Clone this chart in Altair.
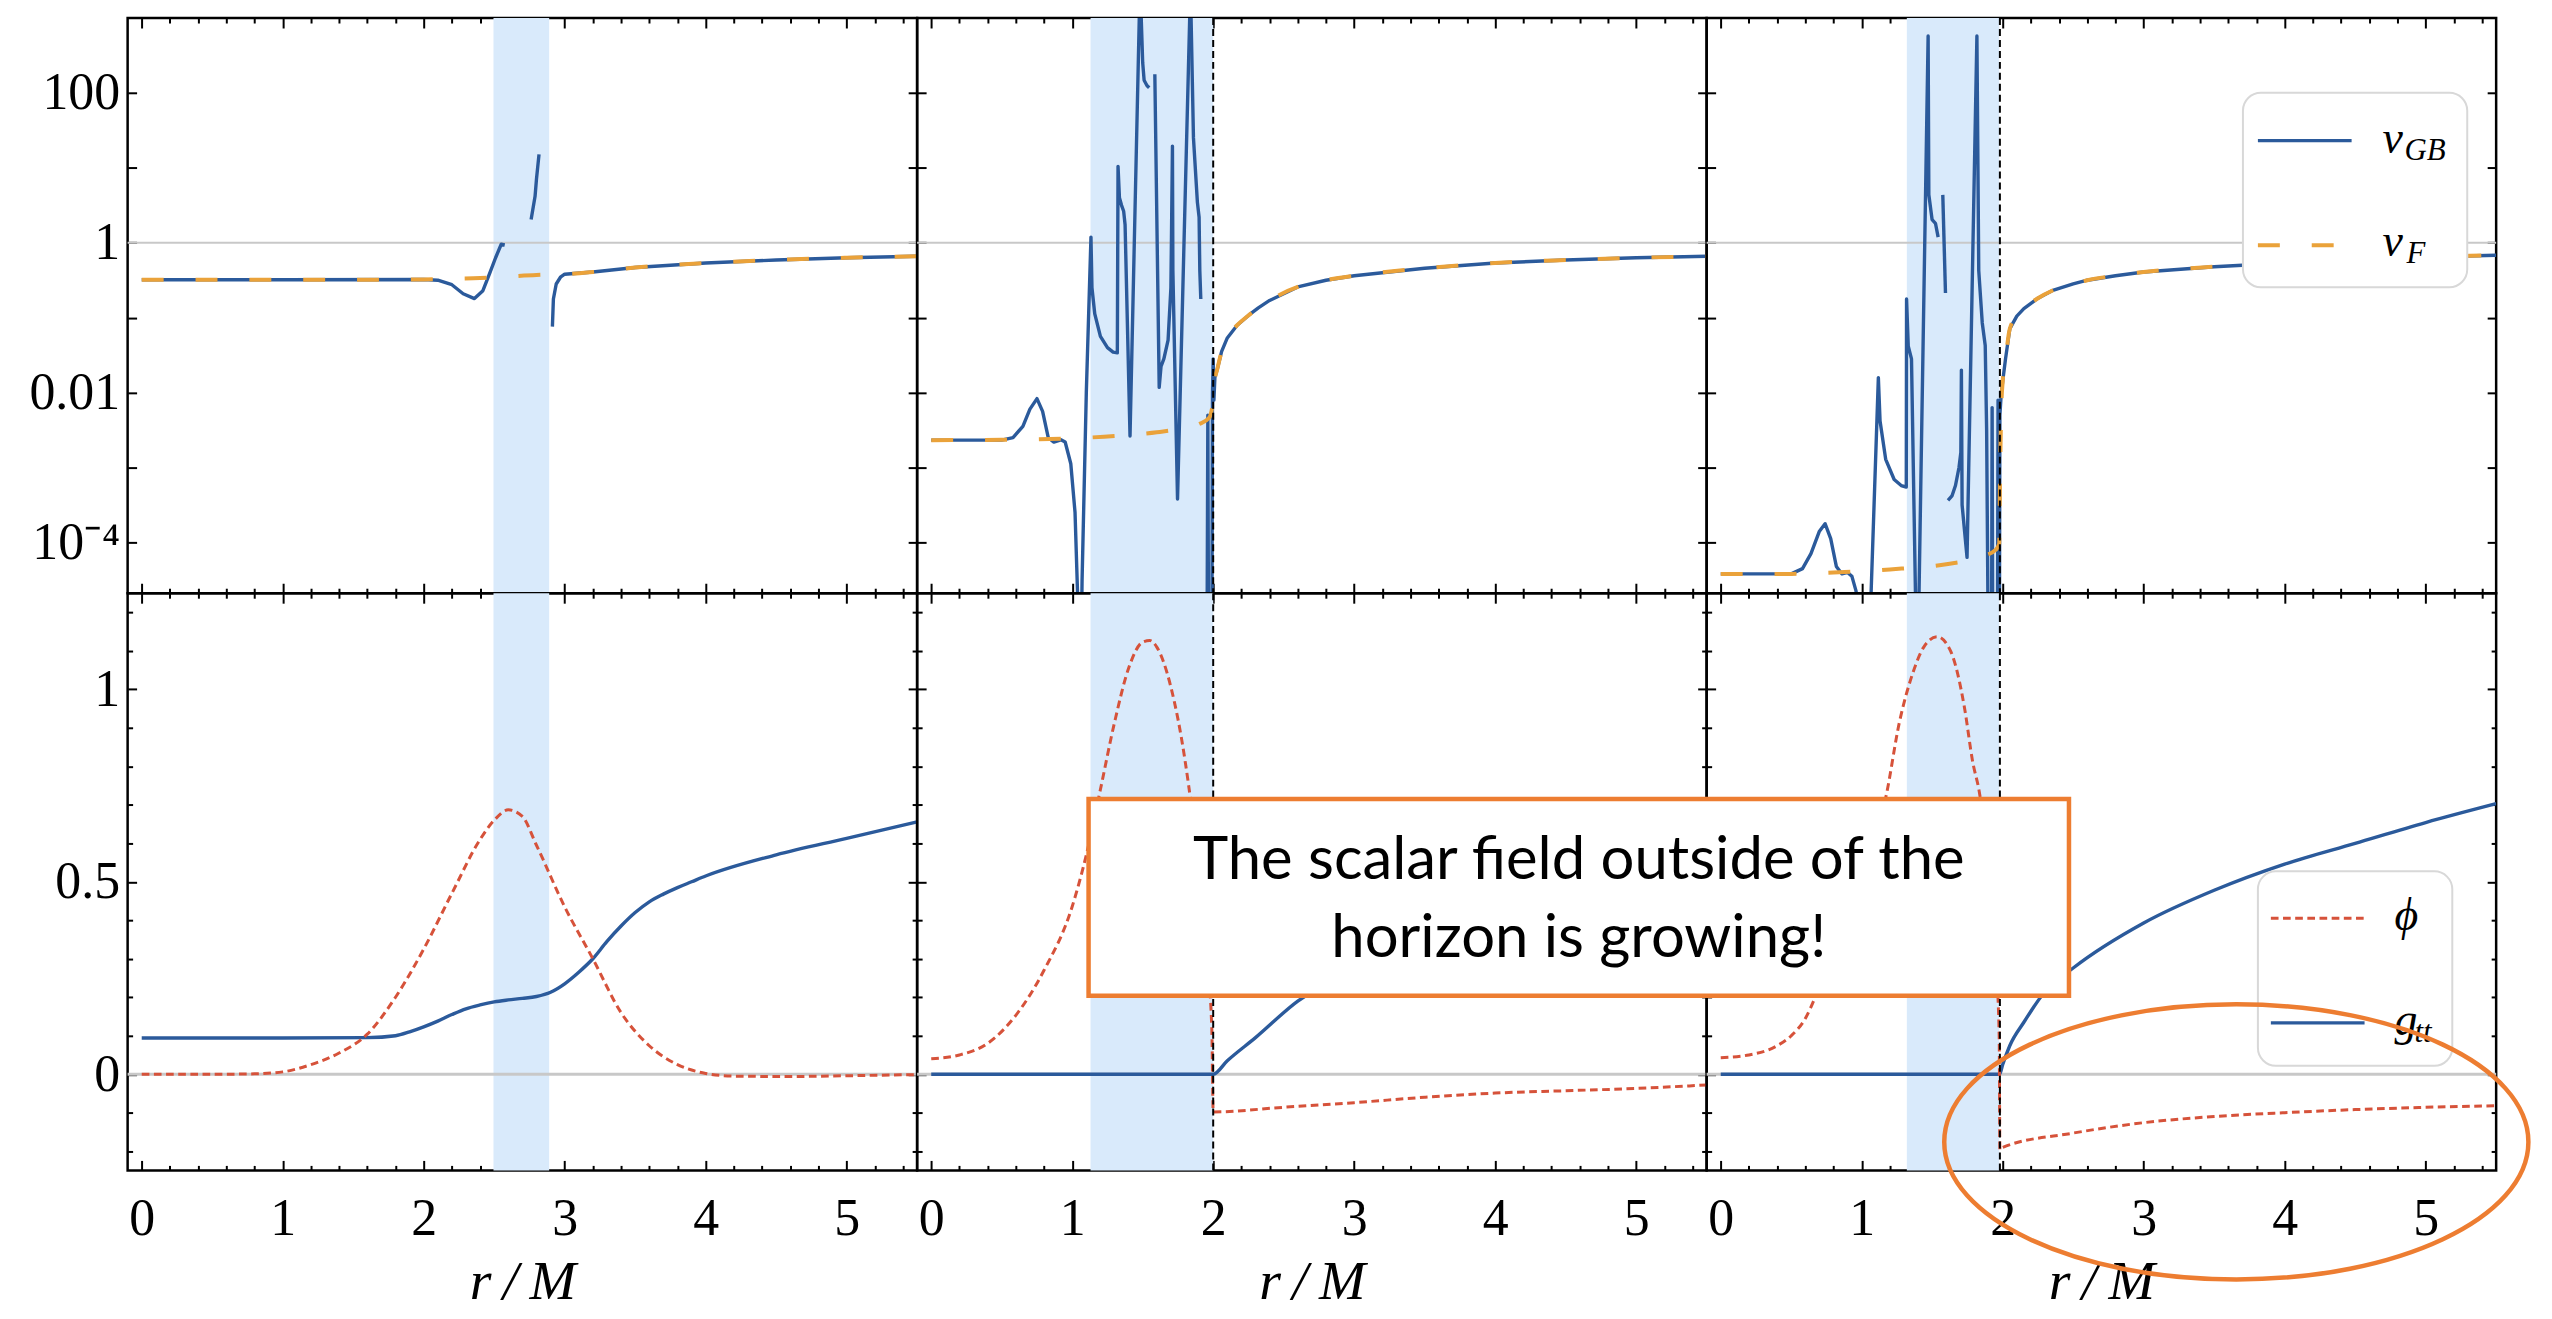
import altair as alt
import pandas as pd

# ---------------------------------------------------------------- style
SERIF = "Liberation Serif"
SANS = "Lato"
BLUE = "#2B5A9B"
ORANGE = "#EAA23A"
RED = "#D6523A"
BAND_COLOR = "#D9EAFB"
REF_COLOR = "#C8C8C8"
ANN_COLOR = "#ED7D31"

W = 792
H_TOP = 577
H_BOT = 579

# ---------------------------------------------------------------- axes
X_DOMAIN = [-0.1, 5.5]
YT_DOMAIN = [2.1e-5, 1000]
YB_DOMAIN = [-0.25, 1.25]
X_MAJOR = [0, 1, 2, 3, 4, 5]
X_MINOR = [0.2, 0.4, 0.6, 0.8, 1.2, 1.4, 1.6, 1.8, 2.2, 2.4, 2.6, 2.8,
           3.2, 3.4, 3.6, 3.8, 4.2, 4.4, 4.6, 4.8, 5.2, 5.4]
YT_TICKS = [1e-4, 1e-3, 1e-2, 1e-1, 1, 10, 100]
YB_MAJOR = [0, 0.5, 1]
YB_MINOR = [-0.2, -0.1, 0.1, 0.2, 0.3, 0.4, 0.6, 0.7, 0.8, 0.9, 1.1, 1.2]
YT_EXPR = ("datum.value < 2e-4 ? '10⁻⁴' : abs(datum.value - 0.01) < 1e-9 ? '0.01' : "
           "datum.value == 1 ? '1' : datum.value == 100 ? '100' : ''")
X_TITLE = "r\u2009/\u2009M"

# shaded regions and horizon position per column
BANDS = [(2.495, 2.89), (1.13, 2.0), (1.32, 1.975)]
HORIZON = [None, 2.0, 1.98]

# ---------------------------------------------------------------- top row data (log10 of v)
VF1_X = [0, 0.5, 1.0, 1.5, 2.0, 2.2, 2.4, 2.6, 2.8, 3.0, 3.2, 3.5, 4.0, 4.5, 5.0, 5.5]
VF1_LOG = [-0.494, -0.494, -0.494, -0.493, -0.49, -0.48, -0.47, -0.45, -0.43, -0.42,
           -0.39, -0.33, -0.27, -0.23, -0.20, -0.18]
VGB1_SEGS = [
    ([0, 1.0, 2.0, 2.1, 2.2, 2.28, 2.36, 2.42, 2.47, 2.51, 2.55, 2.575],
     [-0.494, -0.494, -0.49, -0.50, -0.56, -0.68, -0.745, -0.64, -0.40, -0.20, -0.02, -0.03]),
    ([2.762, 2.79, 2.80, 2.818], [0.31, 0.62, 0.85, 1.18]),
    ([2.913, 2.92, 2.94, 2.97, 3.0, 3.2, 3.5, 4.0, 4.5, 5.0, 5.5],
     [-1.12, -0.75, -0.55, -0.46, -0.42, -0.39, -0.33, -0.27, -0.23, -0.20, -0.18]),
]

VF2_X = [0, 0.5, 1.0, 1.3, 1.6, 1.8, 1.9, 1.97, 2.0, 2.01, 2.03, 2.06, 2.1, 2.17, 2.25,
         2.32, 2.4, 2.6, 2.8, 3.0, 3.5, 4.0, 4.5, 5.0, 5.5]
VF2_LOG = [-2.635, -2.63, -2.61, -2.58, -2.53, -2.47, -2.42, -2.34, -2.1, -1.85, -1.68,
           -1.45, -1.27, -1.10, -0.97, -0.87, -0.77, -0.59, -0.5, -0.44, -0.34, -0.27,
           -0.23, -0.20, -0.18]
VGB2_SEGS = [
    ([0, 0.5, 0.58, 0.65, 0.70, 0.75, 0.79, 0.83, 0.87, 0.92, 0.95, 0.99, 1.02, 1.04, 1.045,
      1.06, 1.07, 1.10, 1.133, 1.14, 1.16, 1.20, 1.25, 1.29, 1.32, 1.325, 1.335, 1.35, 1.365,
      1.375, 1.41, 1.478, 1.486, 1.50, 1.51, 1.53, 1.546],
     [-2.635, -2.635, -2.60, -2.45, -2.22, -2.08, -2.25, -2.60, -2.66, -2.63, -2.66, -2.95,
      -3.6, -4.8, -6, -6, -4.5, -2.0, 0.076, -0.6, -0.95, -1.25, -1.40, -1.46, -1.47, 1.02,
      0.6, 0.5, 0.42, 0.24, -2.58, 3.2, 3.2, 2.4, 2.17, 2.1, 2.07]),
    ([1.586, 1.617, 1.63, 1.65, 1.68, 1.70, 1.711, 1.714, 1.747, 1.836],
     [2.25, -1.93, -1.65, -1.55, -1.3, -0.6, 1.29, -0.37, -3.42, 3.2]),
    ([1.841, 1.86, 1.888, 1.90, 1.905, 1.912], [3.2, 1.4, 0.54, 0.34, -0.37, -0.75]),
    ([1.955, 1.962, 1.968], [-6, -2.3, -6]),
    ([1.99, 1.995, 2.0, 2.005, 2.012, 2.03, 2.06, 2.1, 2.17, 2.25, 2.32, 2.4, 2.6, 2.8, 3.0,
      3.5, 4.0, 4.5, 5.0, 5.5],
     [-6, -2.0, -1.55, -2.1, -1.8, -1.68, -1.45, -1.27, -1.10, -0.97, -0.87, -0.77, -0.59,
      -0.5, -0.44, -0.34, -0.27, -0.23, -0.20, -0.18]),
]

VF3_X = [0, 0.5, 0.8, 1.2, 1.6, 1.85, 1.95, 1.975, 1.982, 1.99, 2.0, 2.02, 2.05, 2.1, 2.15,
         2.25, 2.35, 2.5, 2.6, 2.8, 3.0, 3.5, 4.0, 4.5, 5.0, 5.5]
VF3_LOG = [-4.42, -4.42, -4.40, -4.36, -4.29, -4.19, -4.10, -4.02, -3.0, -2.2, -1.85, -1.55,
           -1.15, -0.98, -0.88, -0.74, -0.64, -0.55, -0.50, -0.44, -0.39, -0.32, -0.27,
           -0.23, -0.19, -0.166]
VGB3_SEGS = [
    ([0, 0.5, 0.58, 0.64, 0.70, 0.74, 0.78, 0.82, 0.86, 0.90, 0.93, 0.96, 0.985,
      1.06, 1.066, 1.118, 1.13, 1.17, 1.23, 1.28, 1.316, 1.318, 1.33, 1.353, 1.393,
      1.395, 1.471, 1.476, 1.499, 1.523, 1.542],
     [-4.42, -4.42, -4.35, -4.15, -3.85, -3.75, -3.95, -4.32, -4.42, -4.40, -4.45, -4.65, -6,
      -6, -4.7, -1.80, -2.38, -2.89, -3.16, -3.24, -3.26, -0.75, -1.38, -1.55, -6,
      -6, 2.76, 0.64, 0.31, 0.26, 0.076]),
    ([1.575, 1.594], [0.64, -0.67]),
    ([1.612, 1.64, 1.665, 1.69, 1.703, 1.707, 1.712, 1.747, 1.817, 1.83, 1.855, 1.876, 1.886, 1.90],
     [-3.44, -3.38, -3.24, -3.0, -2.8, -1.70, -3.5, -4.2, 2.76, -0.37, -1.07, -1.37, -2.5, -6]),
    ([1.92, 1.925, 1.93], [-6, -2.2, -6]),
    ([1.962, 1.967, 1.972, 1.976, 1.98, 1.99, 2.0, 2.02, 2.05, 2.1, 2.15, 2.25, 2.35, 2.5, 2.6,
      2.8, 3.0, 3.5, 4.0, 4.5, 5.0, 5.5],
     [-6, -2.1, -6, -6, -2.3, -2.0, -1.85, -1.55, -1.15, -0.98, -0.88, -0.74, -0.64, -0.55,
      -0.50, -0.44, -0.39, -0.32, -0.27, -0.23, -0.19, -0.166]),
]

# ---------------------------------------------------------------- bottom row data
PHI1_X = [0, 0.6, 0.8, 1.0, 1.2, 1.4, 1.6, 1.8, 2.0, 2.2, 2.4, 2.5, 2.6, 2.7, 2.8, 3.0,
          3.2, 3.4, 3.6, 3.8, 4.0, 4.2, 4.6, 5.0, 5.5]
PHI1_Y = [0, 0, 0.001, 0.006, 0.025, 0.055, 0.104, 0.20, 0.325, 0.47, 0.61, 0.66, 0.687,
          0.67, 0.595, 0.435, 0.30, 0.16, 0.074, 0.025, 0.002, -0.005, -0.006, -0.004, -0.001]
G1_X = [0, 1.0, 1.6, 1.8, 1.9, 2.0, 2.1, 2.2, 2.3, 2.4, 2.5, 2.6, 2.7, 2.8, 2.9, 3.0, 3.1,
        3.2, 3.3, 3.4, 3.5, 3.6, 3.7, 3.8, 3.9, 4.0, 4.5, 5.0, 5.5]
G1_Y = [0.094, 0.094, 0.095, 0.10, 0.11, 0.123, 0.138, 0.155, 0.17, 0.180, 0.188, 0.193,
        0.197, 0.202, 0.213, 0.235, 0.265, 0.30, 0.345, 0.385, 0.42, 0.448, 0.468, 0.485,
        0.50, 0.515, 0.57, 0.613, 0.656]

PHI2_X = [0, 0.2, 0.4, 0.6, 0.8, 1.0, 1.1, 1.2, 1.3, 1.4, 1.5, 1.55, 1.6, 1.7, 1.8, 1.9,
          1.95, 1.99, 2.0, 2.5, 3.0, 3.5, 4.0, 4.5, 5.0, 5.5]
PHI2_Y = [0.04, 0.05, 0.08, 0.153, 0.27, 0.436, 0.57, 0.74, 0.914, 1.055, 1.123, 1.127,
          1.11, 1.006, 0.816, 0.52, 0.32, 0.12, -0.098, -0.086, -0.074, -0.06, -0.049,
          -0.043, -0.037, -0.028]
G2_X = [0, 2.0, 2.1, 2.3, 2.6, 3.0, 3.5, 4.0, 4.5, 5.0, 5.5]
G2_Y = [0, 0, 0.035, 0.095, 0.19, 0.27, 0.36, 0.43, 0.49, 0.545, 0.59]

PHI3_X = [0, 0.2, 0.4, 0.5, 0.6, 0.67, 0.8, 1.0, 1.1, 1.171, 1.267, 1.36, 1.44, 1.535,
          1.63, 1.73, 1.785, 1.84, 1.9, 1.95, 1.975, 1.98, 2.0, 2.5, 3.0, 3.5, 4.0, 4.5,
          5.0, 5.5]
PHI3_Y = [0.043, 0.05, 0.074, 0.10, 0.145, 0.20, 0.33, 0.50, 0.62, 0.72, 0.914, 1.04, 1.11,
          1.137, 1.10, 0.95, 0.816, 0.72, 0.52, 0.30, 0.10, -0.196, -0.19, -0.153, -0.126,
          -0.11, -0.10, -0.092, -0.086, -0.082]
G3_X = [0, 1.978, 2.0, 2.05, 2.15, 2.3, 2.5, 3.0, 3.5, 4.0, 4.5, 5.0, 5.5]
G3_Y = [0, 0, 0.025, 0.074, 0.135, 0.215, 0.276, 0.393, 0.478, 0.546, 0.60, 0.654, 0.703]

# ---------------------------------------------------------------- legends / annotation
LEG_TOP_LABELS = [("v", "GB"), ("v", "F")]
LEG_BOT_LABELS = [("ϕ", ""), ("g", "tt")]
ANN_LINES = ["The scalar field outside of the", "horizon is growing!"]
ANN_BOX_X = [-4.484, 2.470]
ANN_BOX_Y = [0.715, 0.204]
ANN_TEXT_X = -1.007
ANN_TEXT_Y = [0.5065, 0.3044]
ELL_CENTER = (3.657, -0.176)
ELL_W, ELL_H = 586, 276

ONE = pd.DataFrame({"k": [0]})
TICK_FONT_SIZE = 52


def xscale():
    return alt.Scale(domain=X_DOMAIN, nice=False, zero=False)


def yscale(row):
    if row == 0:
        return alt.Scale(type="log", domain=YT_DOMAIN, nice=False)
    return alt.Scale(domain=YB_DOMAIN, nice=False, zero=False)


def xy_df(x, y, log=False):
    return pd.DataFrame({"x": x, "y": [10 ** v for v in y] if log else y})


def seg_df(segments):
    rows = []
    for i, (xs, ls) in enumerate(segments):
        for x, l in zip(xs, ls):
            rows.append({"x": x, "y": 10 ** l, "seg": i})
    return pd.DataFrame(rows)


def band_layer(col):
    b0, b1 = BANDS[col]
    return alt.Chart(pd.DataFrame({"x1": [b0], "x2": [b1]})).mark_rect(
        color=BAND_COLOR).encode(x=alt.X("x1:Q", scale=xscale(), axis=None), x2="x2:Q")


def ref_layer(row):
    return alt.Chart(pd.DataFrame({"y": [1 if row == 0 else 0]})).mark_rule(
        color=REF_COLOR, strokeWidth=2 if row == 0 else 3).encode(
        y=alt.Y("y:Q", scale=yscale(row), axis=None))


def horizon_layer(col):
    return alt.Chart(pd.DataFrame({"x": [HORIZON[col]]})).mark_rule(
        color="black", strokeWidth=2, strokeDash=[7, 4]).encode(
        x=alt.X("x:Q", scale=xscale(), axis=None))


def line_layer(df, row, color, width, dash=None, detail=False, smooth=False):
    mk = dict(color=color, strokeWidth=width, clip=True, strokeJoin="round")
    if dash:
        mk["strokeDash"] = dash
    if smooth:
        mk["interpolate"] = "monotone"
    enc = dict(x=alt.X("x:Q", scale=xscale(), axis=None),
               y=alt.Y("y:Q", scale=yscale(row), axis=None))
    if detail:
        enc["detail"] = "seg:N"
    return alt.Chart(df).mark_line(**mk).encode(**enc)


def axis_layers(row, col):
    xlab = row == 1
    ylab = col == 0
    common = dict(domain=False, grid=False, tickColor="black", tickWidth=2,
                  labelFlush=False, labelOverlap=False, labelBound=False,
                  labelFont=SERIF, labelFontSize=TICK_FONT_SIZE, labelColor="black")
    dummy = pd.DataFrame({"x": [1.0], "y": [1.0 if row == 0 else 0.5]})
    base = alt.Chart(dummy).mark_point(opacity=0)
    if row == 0:
        ymaj, yexpr, ymin = YT_TICKS, YT_EXPR, None
    else:
        ymaj, yexpr, ymin = YB_MAJOR, "toString(datum.value)", YB_MINOR

    xb_kw = dict(orient="bottom", values=X_MAJOR, tickSize=10, offset=-10, labels=xlab,
                 labelPadding=23, labelExpr="toString(datum.value)", **common)
    if xlab:
        xb_kw.update(title=X_TITLE, titleFont=SERIF, titleFontSize=56, titleFontStyle="italic",
                     titleFontWeight="normal", titleColor="black", titlePadding=11)
    else:
        xb_kw.update(title=None)
    ax_xb = alt.Axis(**xb_kw)
    ax_yl = alt.Axis(orient="left", values=ymaj, tickSize=9, offset=-9, labels=ylab,
                     labelPadding=8, labelExpr=yexpr, title=None, **common)
    ax_xb_min = alt.Axis(orient="bottom", values=X_MINOR, tickSize=5, offset=-5, labels=False,
                         title=None, **common)
    ax_yl_min = (alt.Axis(orient="left", values=ymin, tickSize=5, offset=-5, labels=False,
                          title=None, **common) if ymin else None)
    ax_xt = alt.Axis(orient="top", values=X_MAJOR, tickSize=10, offset=-10, labels=False,
                     title=None, **common)
    ax_yr = alt.Axis(orient="right", values=ymaj, tickSize=9, offset=-9, labels=False,
                     title=None, **common)
    ax_xt_min = alt.Axis(orient="top", values=X_MINOR, tickSize=5, offset=-5, labels=False,
                         title=None, **common)
    ax_yr_min = (alt.Axis(orient="right", values=ymin, tickSize=5, offset=-5, labels=False,
                          title=None, **common) if ymin else None)

    out = []
    for ax, ay in [(ax_xb, ax_yl), (ax_xb_min, ax_yl_min), (ax_xt, ax_yr), (ax_xt_min, ax_yr_min)]:
        out.append(base.encode(x=alt.X("x:Q", scale=xscale(), axis=ax),
                               y=alt.Y("y:Q", scale=yscale(row), axis=ay)))
    return out


def legend_layers(box, items):
    x1, x2, y1, y2 = box
    layers = [alt.Chart(ONE).mark_rect(fill="white", stroke="#D8D8D8", strokeWidth=2,
                                       cornerRadius=18).encode(
        x=alt.value(x1), x2=alt.value(x2), y=alt.value(y1), y2=alt.value(y2))]
    for it in items:
        mk = dict(color=it["color"], strokeWidth=it["width"])
        if it.get("dash"):
            mk["strokeDash"] = it["dash"]
        layers.append(alt.Chart(ONE).mark_rule(**mk).encode(
            x=alt.value(it["lx"][0]), x2=alt.value(it["lx"][1]), y=alt.value(it["ly"])))
        main, sub = it["label"]
        layers.append(alt.Chart(ONE).mark_text(
            font=SERIF, fontStyle="italic", fontSize=46, align="left", baseline="alphabetic",
            color="black").encode(x=alt.value(it["tx"]), y=alt.value(it["ty"]),
                                  text=alt.value(main)))
        if sub:
            layers.append(alt.Chart(ONE).mark_text(
                font=SERIF, fontStyle="italic", fontSize=31, align="left",
                baseline="alphabetic", color="black").encode(
                x=alt.value(it["sx"]), y=alt.value(it["sy"]), text=alt.value(sub)))
    return layers


def annotation_layers():
    box = alt.Chart(pd.DataFrame({"x1": [ANN_BOX_X[0]], "x2": [ANN_BOX_X[1]],
                                  "y1": [ANN_BOX_Y[0]], "y2": [ANN_BOX_Y[1]]})).mark_rect(
        fill="white", stroke=ANN_COLOR, strokeWidth=4.5).encode(
        x=alt.X("x1:Q", scale=xscale(), axis=None), x2="x2:Q",
        y=alt.Y("y1:Q", scale=yscale(1), axis=None), y2="y2:Q")
    txt = alt.Chart(pd.DataFrame({"x": [ANN_TEXT_X] * len(ANN_LINES), "y": ANN_TEXT_Y,
                                  "t": ANN_LINES})).mark_text(
        font=SANS, fontSize=60, color="black", align="center", baseline="alphabetic").encode(
        x=alt.X("x:Q", scale=xscale(), axis=None), y=alt.Y("y:Q", scale=yscale(1), axis=None),
        text="t:N")
    r = ELL_H / ELL_W
    k = 0.5523
    path = (f"M -1 0 C -1 {-k * r:.4f} {-k:.4f} {-r:.4f} 0 {-r:.4f} "
            f"C {k:.4f} {-r:.4f} 1 {-k * r:.4f} 1 0 "
            f"C 1 {k * r:.4f} {k:.4f} {r:.4f} 0 {r:.4f} "
            f"C {-k:.4f} {r:.4f} -1 {k * r:.4f} -1 0 Z")
    ell = alt.Chart(pd.DataFrame({"x": [ELL_CENTER[0]], "y": [ELL_CENTER[1]]})).mark_point(
        shape=path, size=ELL_W ** 2, filled=False, stroke=ANN_COLOR, strokeWidth=4.5,
        opacity=1).encode(x=alt.X("x:Q", scale=xscale(), axis=None),
                          y=alt.Y("y:Q", scale=yscale(1), axis=None))
    return [ell, box, txt]


def top_panel(col, vgb, vfx, vfl):
    layers = [band_layer(col), ref_layer(0)]
    layers.append(line_layer(seg_df(vgb), 0, BLUE, 3.4, detail=True))
    layers.append(line_layer(xy_df(vfx, vfl, log=True), 0, ORANGE, 4, dash=[22, 32],
                             smooth=True))
    if HORIZON[col] is not None:
        layers.append(horizon_layer(col))
    layers += axis_layers(0, col)
    if col == 2:
        layers += legend_layers((538, 763, 75, 270), [
            dict(color=BLUE, width=3.4, lx=(553, 647), ly=123, label=LEG_TOP_LABELS[0],
                 tx=678, ty=135, sx=700, sy=142),
            dict(color=ORANGE, width=4, dash=[22, 32], lx=(553, 629), ly=228,
                 label=LEG_TOP_LABELS[1], tx=678, ty=239, sx=702, sy=246),
        ])
    return alt.layer(*layers).resolve_axis(x="independent", y="independent").properties(
        width=W, height=H_TOP)


def bottom_panel(col, gx, gy, px, py):
    layers = [band_layer(col), ref_layer(1)]
    layers.append(line_layer(xy_df(gx, gy), 1, BLUE, 3.4, smooth=True))
    layers.append(line_layer(xy_df(px, py), 1, RED, 3, dash=[7.7, 4.5], smooth=True))
    if HORIZON[col] is not None:
        layers.append(horizon_layer(col))
    layers += axis_layers(1, col)
    if col == 2:
        layers += legend_layers((553, 748, 279, 474), [
            dict(color=RED, width=3, dash=[7.7, 4.5], lx=(566, 660), ly=326,
                 label=LEG_BOT_LABELS[0], tx=690, ty=338),
            dict(color=BLUE, width=3.4, lx=(566, 660), ly=431, label=LEG_BOT_LABELS[1],
                 tx=690, ty=443, sx=710, sy=450),
        ])
        layers += annotation_layers()
    return alt.layer(*layers).resolve_axis(x="independent", y="independent").properties(
        width=W, height=H_BOT)


panels = [
    top_panel(0, VGB1_SEGS, VF1_X, VF1_LOG),
    top_panel(1, VGB2_SEGS, VF2_X, VF2_LOG),
    top_panel(2, VGB3_SEGS, VF3_X, VF3_LOG),
    bottom_panel(0, G1_X, G1_Y, PHI1_X, PHI1_Y),
    bottom_panel(1, G2_X, G2_Y, PHI2_X, PHI2_Y),
    bottom_panel(2, G3_X, G3_Y, PHI3_X, PHI3_Y),
]

chart = alt.concat(*panels, columns=3, spacing=0, bounds="flush").properties(
    padding={"left": 19, "top": 5, "right": 5, "bottom": 0}
).configure_view(stroke="black", strokeWidth=2.5)

chart.save("out.html", embed_options={"renderer": "svg", "actions": False})
